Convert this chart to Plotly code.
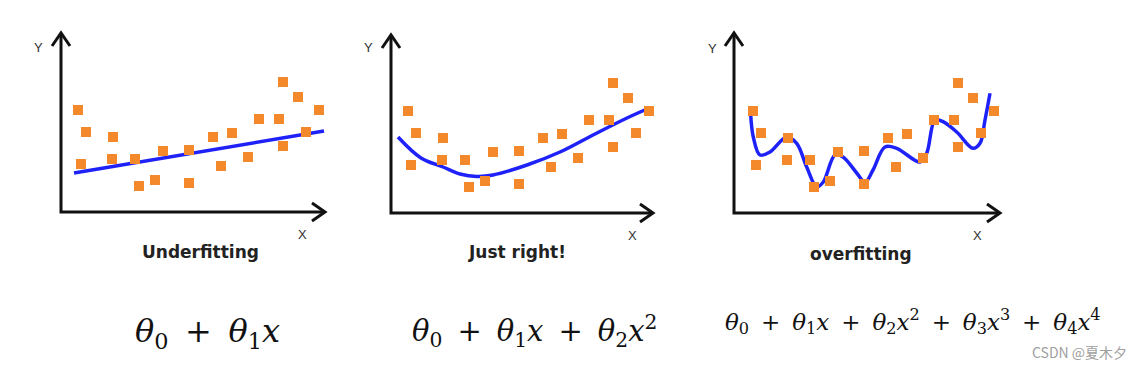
import plotly.graph_objects as go

PAGE_OFF = 8  # default body margin of the html page
W, H = 1144 - PAGE_OFF, 365 - PAGE_OFF

# Shared scatter data (pixel-like units relative to each panel origin)
pts_x = [17, 25, 20, 52, 51, 74, 78, 94, 102, 128, 128, 152, 160, 171, 187, 198, 218, 222, 222, 237, 245, 258]
pts_y = [102, 80, 48, 75, 53, 53, 26, 32, 61, 62, 29, 75, 46, 79, 55, 93, 93, 130, 66, 115, 80, 102]

# Underfitting line
under_x = [13, 263]
under_y = [39, 81]

# Just-right curve
just_x = [7, 30, 52, 69, 86, 102, 136, 169, 202, 236, 256]
just_y = [76, 55, 46, 39, 36.5, 38, 48, 61, 78, 95, 104]

# Overfitting curve
over_x = [16.7, 19.3, 26, 36, 52.7, 62.7, 72.7, 82.7, 89.3, 101, 109, 122.7, 131, 139, 151, 162.7,
          186, 192.7, 201, 209, 222.7, 239, 246, 251, 256]
over_y = [98, 76, 58, 61, 76, 69.7, 46, 26, 31, 58, 56, 40, 30.7, 43, 66, 64.7,
          51, 59.7, 93, 91.3, 81, 64.7, 69.7, 93, 119.7]

titles = ["Underfitting", "Just right!", "overfitting"]
SP = "\u2009"
PLUS = f"{SP} + {SP}"
formulas = [
    f"<i>θ</i><sub>0</sub>{PLUS}<i>θ</i><sub>1</sub><i>x</i>",
    f"<i>θ</i><sub>0</sub>{PLUS}<i>θ</i><sub>1</sub><i>x</i>{PLUS}<i>θ</i><sub>2</sub><i>x</i><sup>2</sup>",
    f"<i>θ</i><sub>0</sub>{PLUS}<i>θ</i><sub>1</sub><i>x</i>{PLUS}<i>θ</i><sub>2</sub><i>x</i><sup>2</sup>{PLUS}<i>θ</i><sub>3</sub><i>x</i><sup>3</sup>{PLUS}<i>θ</i><sub>4</sub><i>x</i><sup>4</sup>",
]

# panel geometry (page pixel origin of axes)
origins = [(61, 212), (391, 213), (734, 213)]
xlen = [264, 262, 266]
ylen = [179, 178, 180]
pt_shift = [0, 0, 2]

ORANGE = "#F4892C"
BLUE = "#1E22F8"


def px(x):
    return (x - PAGE_OFF) / W


def py(y):
    return 1 - (y - PAGE_OFF) / H


fig = go.Figure()
curves = [(under_x, under_y, "linear"), (just_x, just_y, "spline"), (over_x, over_y, "spline")]

layout = dict(width=W, height=H, margin=dict(l=0, r=0, t=0, b=0),
              paper_bgcolor="white", plot_bgcolor="white", showlegend=False)
shapes = []
annotations = []

for i, (ox, oy) in enumerate(origins):
    ax = "" if i == 0 else str(i + 1)
    xa, ya = "x" + ax, "y" + ax
    x0p, x1p = ox - 40, ox + 300
    y_top, y_bot = 14, 240
    layout["xaxis" + ax] = dict(domain=[px(x0p), px(x1p)], range=[-40, 300], visible=False, fixedrange=True)
    layout["yaxis" + ax] = dict(domain=[py(y_bot), py(y_top)], range=[oy - y_bot, oy - y_top],
                                visible=False, fixedrange=True)
    cx, cy, shape_mode = curves[i]
    fig.add_trace(go.Scatter(x=cx, y=cy, mode="lines", xaxis=xa, yaxis=ya,
                             line=dict(color=BLUE, width=3.5, shape=shape_mode, smoothing=1.0),
                             hoverinfo="skip"))
    fig.add_trace(go.Scatter(x=[v + pt_shift[i] for v in pts_x], y=pts_y, mode="markers", xaxis=xa, yaxis=ya,
                             marker=dict(symbol="square", size=10, color=ORANGE, line=dict(width=0)),
                             hoverinfo="skip"))
    # axes with open arrowheads
    L, Hh = xlen[i], ylen[i]
    line_style = dict(color="#111111", width=3)
    shapes.append(dict(type="path", xref=xa, yref=ya, path=f"M 0,{Hh} L 0,0 L {L},0", line=line_style))
    shapes.append(dict(type="path", xref=xa, yref=ya, path=f"M {L-13},9 L {L},0 L {L-13},-9", line=line_style))
    shapes.append(dict(type="path", xref=xa, yref=ya, path=f"M -9,{Hh-13} L 0,{Hh} L 9,{Hh-13}", line=line_style))


def label(x, y, text, font):
    annotations.append(dict(x=px(x), y=py(y), xref="paper", yref="paper", text=text, showarrow=False,
                            xanchor="center", yanchor="middle", font=font))


# axis letters
for (x, y) in [(38, 47), (368, 47), (712, 48)]:
    label(x, y, "Y", dict(family="Liberation Sans", size=13, color="#333333"))
for (x, y) in [(302, 234), (632, 235), (977, 236)]:
    label(x, y, "X", dict(family="Liberation Sans", size=13, color="#333333"))
# titles
for t, (x, y) in zip(titles, [(200, 252), (517, 252), (861, 254)]):
    label(x, y, f"<b>{t}</b>", dict(family="DejaVu Sans", size=17, color="#222222"))
# formulas
for f, (x, y), s in zip(formulas, [(207, 333), (534, 331), (913, 321)], [32, 29, 23]):
    label(x, y, f, dict(family="DejaVu Serif", size=s, color="#111111"))
# watermark
label(1079, 352, "CSDN @夏木夕", dict(family="Noto Sans CJK SC", size=14, color="#A0A0A0"))

layout["shapes"] = shapes
layout["annotations"] = annotations
fig.update_layout(**layout)
fig.write_html("out.html", config={"displayModeBar": False})
